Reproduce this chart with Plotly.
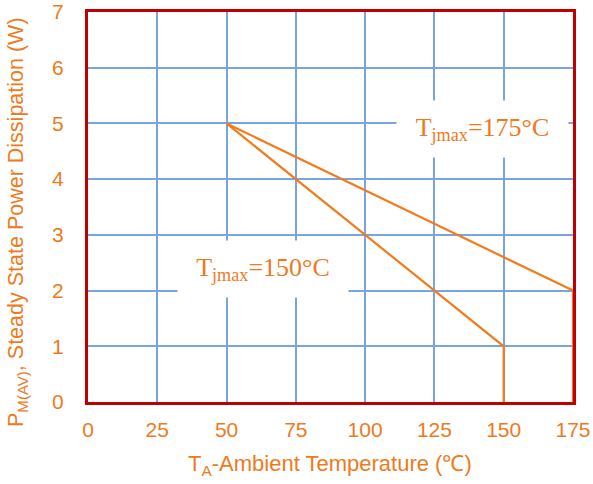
import plotly.graph_objects as go

temp_150 = [50, 150, 150]
power_150 = [5, 1, 0]
temp_175 = [50, 175, 175]
power_175 = [5, 2, 0]
x_ticks = [0, 25, 50, 75, 100, 125, 150, 175]
y_ticks = [0, 1, 2, 3, 4, 5, 6, 7]

ORANGE = "#EE7A1E"
LINE = "#F07C1C"
RED = "#C00000"
GRID = "#7AA4E0"

W, H = 593, 484
ML, MR, MT, MB = 88, 20, 12, 82
pw, ph = W - ML - MR, H - MT - MB

fig = go.Figure()
fig.add_trace(go.Scatter(x=temp_150, y=power_150, mode="lines",
                         line=dict(color=LINE, width=2.2), showlegend=False))
fig.add_trace(go.Scatter(x=temp_175, y=power_175, mode="lines",
                         line=dict(color=LINE, width=2.2), showlegend=False))

label_font = dict(family="Liberation Serif", size=26, color=ORANGE)
fig.add_annotation(x=142.3, y=4.9, xref="x", yref="y",
                   text="T<sub>jmax</sub>=175°C", showarrow=False,
                   font=label_font, bgcolor="white", borderpad=0,
                   width=171, height=56)
fig.add_annotation(x=63.1, y=2.39, xref="x", yref="y",
                   text="T<sub>jmax</sub>=150°C", showarrow=False,
                   font=label_font, bgcolor="white", borderpad=0,
                   width=170, height=56)

# axis titles (positions given in pixels, converted to paper coords)
fig.add_annotation(x=(330 - ML) / pw, y=(H - MB - 465) / ph,
                   xref="paper", yref="paper", xanchor="center", yanchor="middle",
                   text="T<sub>A</sub>-Ambient Temperature (℃)", showarrow=False,
                   font=dict(size=22, color=ORANGE))
fig.add_annotation(x=(17 - ML) / pw, y=(H - MB - 222) / ph,
                   xref="paper", yref="paper", xanchor="center", yanchor="middle",
                   text="P<sub>M(AV)</sub>, Steady State Power Dissipation (W)",
                   showarrow=False, textangle=-90,
                   font=dict(size=21.5, color=ORANGE))

fig.update_layout(
    width=W, height=H,
    margin=dict(l=ML, r=MR, t=MT, b=MB),
    plot_bgcolor="white", paper_bgcolor="white",
    font=dict(family="Liberation Sans", color=ORANGE),
)

fig.update_xaxes(range=[0, 175], tickvals=x_ticks, showgrid=True, gridcolor=GRID,
                 gridwidth=1.5, showline=True, linecolor=RED, linewidth=3,
                 mirror=True, zeroline=False, ticks="", layer="below traces",
                 automargin=False,
                 tickfont=dict(size=21, color=ORANGE), ticklabelstandoff=7)
fig.update_yaxes(range=[0, 7], tickvals=y_ticks, showgrid=True, gridcolor=GRID,
                 gridwidth=1.5, showline=True, linecolor=RED, linewidth=3,
                 mirror=True, zeroline=False, ticks="", layer="below traces",
                 automargin=False,
                 tickfont=dict(size=21, color=ORANGE), ticklabelstandoff=17)

fig.write_html("out.html")
